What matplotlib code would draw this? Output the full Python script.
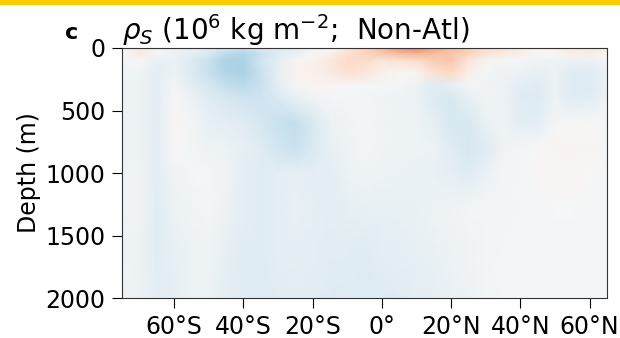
import numpy as np
import matplotlib
matplotlib.use("Agg")
import matplotlib.pyplot as plt
from matplotlib.patches import Rectangle

# latitude (deg) and depth (m) of the grid points
lats = [-75, -70, -65, -60, -55, -50, -45, -40, -35, -30, -25, -20, -15, -10, -5,
        0, 5, 10, 15, 20, 25, 30, 35, 40, 45, 50, 55, 60, 65]
depths = [0, 50, 100, 200, 300, 400, 600, 800, 1000, 1300, 1600, 2000]

# rho_S anomaly, one row per depth (south -> north)
rho_0 = [0.02, 0.12, 0.05, -0.05, -0.08, -0.12, -0.18, -0.22, -0.15, -0.12, -0.10, -0.05, 0.00, 0.10, 0.22,
         0.32, 0.45, 0.48, 0.40, 0.32, 0.25, 0.20, 0.15, 0.10, 0.02, 0.05, 0.12, 0.12, 0.05]
rho_50 = [0.00, 0.08, -0.02, -0.06, -0.10, -0.16, -0.26, -0.30, -0.22, -0.12, -0.08, 0.00, 0.05, 0.16, 0.22,
          0.26, 0.30, 0.33, 0.30, 0.28, 0.22, 0.12, 0.08, 0.05, 0.00, 0.00, 0.05, 0.06, 0.02]
rho_100 = [-0.03, 0.00, -0.08, -0.06, -0.13, -0.22, -0.32, -0.32, -0.20, -0.10, 0.02, 0.05, 0.10, 0.20, 0.18,
           0.12, 0.15, 0.18, 0.25, 0.28, 0.12, 0.03, -0.02, -0.03, -0.05, -0.04, -0.06, -0.05, -0.03]
rho_200 = [-0.04, -0.04, -0.10, -0.05, -0.13, -0.22, -0.30, -0.32, -0.22, -0.08, 0.05, 0.05, 0.08, 0.15, 0.12,
           0.05, 0.00, 0.02, 0.15, 0.20, 0.05, -0.03, -0.05, -0.06, -0.08, -0.06, -0.12, -0.14, -0.05]
rho_300 = [-0.04, -0.05, -0.10, -0.03, -0.10, -0.17, -0.24, -0.26, -0.22, -0.10, -0.02, 0.02, 0.02, 0.00, -0.02,
           -0.02, -0.03, -0.05, -0.14, -0.08, -0.03, -0.04, -0.05, -0.10, -0.12, -0.06, -0.12, -0.14, -0.05]
rho_400 = [-0.05, -0.05, -0.10, 0.00, -0.06, -0.12, -0.17, -0.21, -0.21, -0.15, -0.08, -0.04, -0.03, -0.03, -0.03,
           -0.04, -0.05, -0.06, -0.14, -0.16, -0.08, -0.04, -0.05, -0.12, -0.14, -0.06, -0.12, -0.12, -0.04]
rho_600 = [-0.05, -0.05, -0.10, 0.02, -0.02, -0.08, -0.10, -0.12, -0.17, -0.22, -0.24, -0.16, -0.06, -0.04, -0.03,
           -0.04, -0.05, -0.05, -0.08, -0.16, -0.16, -0.07, -0.04, -0.10, -0.10, -0.02, 0.01, 0.00, -0.03]
rho_800 = [-0.05, -0.05, -0.10, 0.00, -0.03, -0.05, -0.06, -0.08, -0.12, -0.19, -0.22, -0.15, -0.08, -0.05, -0.03,
           -0.04, -0.05, -0.05, -0.06, -0.12, -0.17, -0.12, -0.04, -0.02, 0.00, 0.02, 0.03, 0.02, -0.02]
rho_1000 = [-0.04, -0.04, -0.10, -0.04, -0.02, -0.02, -0.04, -0.10, -0.12, -0.10, -0.08, -0.10, -0.10, -0.06, -0.04,
            -0.05, -0.06, -0.07, -0.07, -0.09, -0.12, -0.07, -0.03, -0.02, 0.01, 0.02, 0.02, 0.00, -0.02]
rho_1300 = [-0.04, -0.04, -0.11, -0.06, -0.04, -0.03, -0.05, -0.10, -0.12, -0.10, -0.07, -0.09, -0.10, -0.09, -0.08,
            -0.08, -0.08, -0.07, -0.05, -0.04, -0.03, -0.03, -0.03, -0.02, -0.02, -0.01, -0.01, -0.02, -0.02]
rho_1600 = [-0.04, -0.05, -0.11, -0.08, -0.05, -0.04, -0.08, -0.12, -0.12, -0.10, -0.09, -0.10, -0.11, -0.11, -0.12,
            -0.10, -0.09, -0.08, -0.07, -0.05, -0.04, -0.03, -0.02, -0.02, -0.02, -0.02, -0.02, -0.02, -0.02]
rho_2000 = [-0.04, -0.05, -0.10, -0.09, -0.05, -0.06, -0.10, -0.12, -0.12, -0.11, -0.11, -0.11, -0.12, -0.13, -0.14,
            -0.13, -0.12, -0.10, -0.09, -0.07, -0.05, -0.03, -0.02, -0.02, -0.02, -0.02, -0.02, -0.02, -0.02]

xticks = [-60, -40, -20, 0, 20, 40, 60]
xticklabels = ['60°S', '40°S', '20°S', '0°', '20°N', '40°N', '60°N']
yticks = [0, 500, 1000, 1500, 2000]

rho = np.array([rho_0, rho_50, rho_100, rho_200, rho_300, rho_400, rho_600,
                rho_800, rho_1000, rho_1300, rho_1600, rho_2000])

fig = plt.figure(figsize=(6.2, 3.38), dpi=100)
fig.patches.append(Rectangle((0, 0.988), 1, 0.012, transform=fig.transFigure,
                             color='#ffcc00', zorder=5))
ax = fig.add_axes([0.197, 0.118, 0.782, 0.740])

ax.pcolormesh(lats, depths, rho, cmap='RdBu_r', vmin=-1, vmax=1, shading='gouraud')
ax.set_xlim(-75, 65)
ax.set_ylim(2000, 0)
ax.set_xticks(xticks)
ax.set_xticklabels(xticklabels)
ax.set_yticks(yticks)
ax.tick_params(labelsize=17, length=7, pad=5)
for s in ax.spines.values():
    s.set_color('#333333')
ax.set_ylabel('Depth (m)', fontsize=17, labelpad=3)
ax.set_title(r'$\rho_S$ (10$^6$ kg m$^{-2}$;  Non-Atl)', loc='left', fontsize=20, pad=3)
fig.text(0.105, 0.885, 'c', fontsize=16, fontweight='bold')

plt.savefig('out.png', dpi=100)
